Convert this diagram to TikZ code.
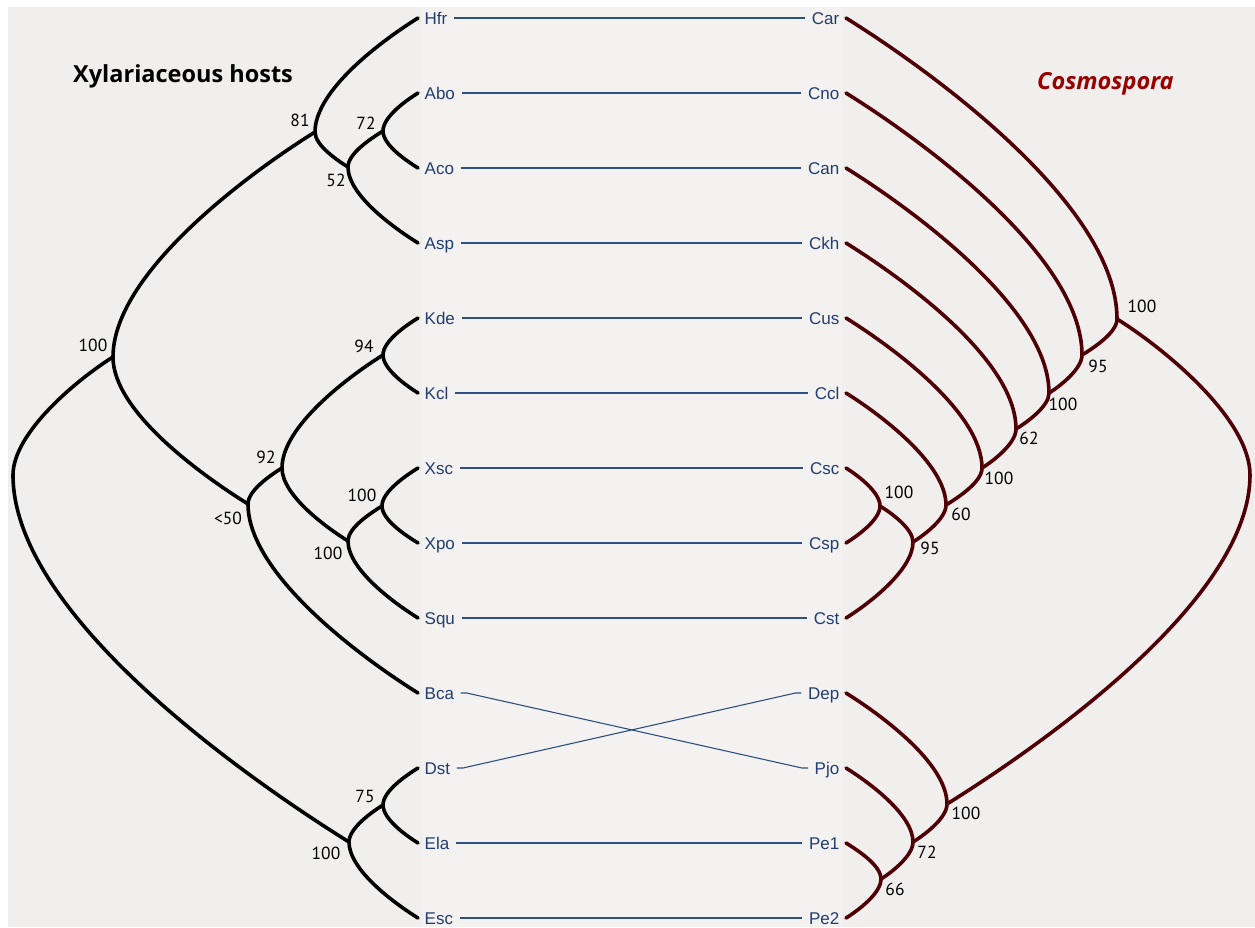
\documentclass[tikz,border=0pt]{standalone}
\usepackage{fontspec}
\setmainfont{Liberation Sans}
\newfontfamily\bootfont{PT Sans}
\newfontfamily\titlefont{Open Sans}
\usetikzlibrary{positioning}
\definecolor{hostblue}{HTML}{213D73}
\definecolor{linkblue}{HTML}{2F4F80}
\definecolor{cosmored}{HTML}{4E0005}
\definecolor{titlered}{HTML}{9A0000}
\definecolor{bggrey}{HTML}{F0EFED}
\definecolor{bandgrey}{HTML}{F3F2F0}

\begin{document}
\begin{tikzpicture}[x=1pt, y=-1pt,
                tipL/.style = {anchor=west, inner xsep=6.5pt, inner ysep=0pt,
                               text height=12pt, text depth=0pt, text=hostblue,
                               font=\fontsize{17}{17}\selectfont},
                tipR/.style = {tipL, anchor=east},
                boot/.style = {font=\bootfont\fontsize{17.5}{17.5}\selectfont},
                host/.style = {line width=3.6pt, draw=black, line cap=round, looseness=0.7},
                fungus/.style = {host, draw=cosmored},
                link/.style = {draw=linkblue, line width=1.1pt},
                lup/.style = {out=90, in=212},
                ldn/.style = {out=270, in=148},
                rup/.style = {out=90, in=328},
                rdn/.style = {out=270, in=32}]
    % background
    \useasboundingbox (0,0) rectangle (1255,927);
    \fill[bggrey] (8,7) rectangle (1255,927);
    \fill[bandgrey] (422,7) rectangle (842,927);
    % titles
    \node[anchor=base west, inner sep=0pt, font=\titlefont\bfseries\fontsize{23.5}{23.5}\selectfont]
        (hosttitle) at (73,82) {Xylariaceous hosts};
    \node[anchor=base west, inner sep=0pt, text=titlered,
          font=\titlefont\bfseries\itshape\fontsize{23.5}{23.5}\selectfont]
        (funtitle) at (1037,89) {Cosmospora};
    % tips
    \foreach \nm [count=\i from 0] in {Hfr,Abo,Aco,Asp,Kde,Kcl,Xsc,Xpo,Squ,Bca,Dst,Ela,Esc}
        \node[tipL] (\nm) at (418,18+75*\i) {\nm};
    \foreach \nm [count=\i from 0] in {Car,Cno,Can,Ckh,Cus,Ccl,Csc,Csp,Cst,Dep,Pjo,Pe1,Pe2}
        \node[tipR] (\nm) at (846,18+75*\i) {\nm};
    % associations
    \foreach \a/\b in {Hfr/Car,Abo/Cno,Aco/Can,Asp/Ckh,Kde/Cus,Kcl/Ccl,Xsc/Csc,
                       Xpo/Csp,Squ/Cst,Ela/Pe1,Esc/Pe2}
        \draw[link] (\a.east) -- (\b.west);
    \draw[link] (Bca.east) -- ++(6,0) -- ([xshift=-6pt]Pjo.west) -- (Pjo.west);
    \draw[link] (Dst.east) -- ++(6,0) -- ([xshift=-6pt]Dep.west) -- (Dep.west);
    % host tree
    \coordinate (lroot) at (13,475);
    \coordinate (l100a) at (113,357);
    \coordinate (l81) at (315,132);
    \coordinate (l52) at (348,167);
    \coordinate (l72) at (383,131);
    \coordinate (l50) at (248,504);
    \coordinate (l92) at (282,468);
    \coordinate (l94) at (383,355);
    \coordinate (l100s) at (348,541);
    \coordinate (l100x) at (382,506);
    \coordinate (l100e) at (349,842);
    \coordinate (l75) at (383,805);
    \draw[host] (lroot) to[lup] (l100a) (lroot) to[ldn] (l100e);
    \draw[host] (l100a) to[lup] (l81) (l100a) to[ldn] (l50);
    \draw[host] (l81) to[lup] (Hfr.west) (l81) to[ldn] (l52);
    \draw[host] (l52) to[lup] (l72) (l52) to[ldn] (Asp.west);
    \draw[host] (l72) to[lup] (Abo.west) (l72) to[ldn] (Aco.west);
    \draw[host] (l50) to[lup] (l92) (l50) to[ldn] (Bca.west);
    \draw[host] (l92) to[lup] (l94) (l92) to[ldn] (l100s);
    \draw[host] (l94) to[lup] (Kde.west) (l94) to[ldn] (Kcl.west);
    \draw[host] (l100s) to[lup] (l100x) (l100s) to[ldn] (Squ.west);
    \draw[host] (l100x) to[lup] (Xsc.west) (l100x) to[ldn] (Xpo.west);
    \draw[host] (l100e) to[lup] (l75) (l100e) to[ldn] (Esc.west);
    \draw[host] (l75) to[lup] (Dst.west) (l75) to[ldn] (Ela.west);
    % host support
    \node[boot] at (93,345) {100};
    \node[boot] at (300,120) {81};
    \node[boot] at (366,123) {72};
    \node[boot] at (336,180) {52};
    \node[boot] at (364,346) {94};
    \node[boot] at (266,457) {92};
    \node[boot] at (228,518) {<50};
    \node[boot] at (362,495) {100};
    \node[boot] at (328,553) {100};
    \node[boot] at (365,796) {75};
    \node[boot] at (326,853) {100};
    % Cosmospora tree
    \coordinate (rroot) at (1250,475);
    \coordinate (r100t) at (1117,319);
    \coordinate (r95b) at (1082,355);
    \coordinate (r100d) at (1049,393);
    \coordinate (r62) at (1016,429);
    \coordinate (r100b) at (982,468);
    \coordinate (r60) at (946,505);
    \coordinate (r95a) at (913,542);
    \coordinate (r100c) at (880,506);
    \coordinate (r100p) at (947,804);
    \coordinate (r72) at (913,842);
    \coordinate (r66) at (881,879);
    \draw[fungus] (rroot) to[rup] (r100t) (rroot) to[rdn] (r100p);
    \draw[fungus] (r100t) to[rup] (Car.east) (r100t) to[rdn] (r95b);
    \draw[fungus] (r95b) to[rup] (Cno.east) (r95b) to[rdn] (r100d);
    \draw[fungus] (r100d) to[rup] (Can.east) (r100d) to[rdn] (r62);
    \draw[fungus] (r62) to[rup] (Ckh.east) (r62) to[rdn] (r100b);
    \draw[fungus] (r100b) to[rup] (Cus.east) (r100b) to[rdn] (r60);
    \draw[fungus] (r60) to[rup] (Ccl.east) (r60) to[rdn] (r95a);
    \draw[fungus] (r95a) to[rup] (r100c) (r95a) to[rdn] (Cst.east);
    \draw[fungus] (r100c) to[rup] (Csc.east) (r100c) to[rdn] (Csp.east);
    \draw[fungus] (r100p) to[rup] (Dep.east) (r100p) to[rdn] (r72);
    \draw[fungus] (r72) to[rup] (Pjo.east) (r72) to[rdn] (r66);
    \draw[fungus] (r66) to[rup] (Pe1.east) (r66) to[rdn] (Pe2.east);
    % Cosmospora support
    \node[boot] at (1142,306) {100};
    \node[boot] at (1098,366) {95};
    \node[boot] at (1063,404) {100};
    \node[boot] at (1029,438) {62};
    \node[boot] at (999,478) {100};
    \node[boot] at (961,514) {60};
    \node[boot] at (930,548) {95};
    \node[boot] at (899,492) {100};
    \node[boot] at (966,813) {100};
    \node[boot] at (927,852) {72};
    \node[boot] at (895,889) {66};
\end{tikzpicture}
\end{document}
